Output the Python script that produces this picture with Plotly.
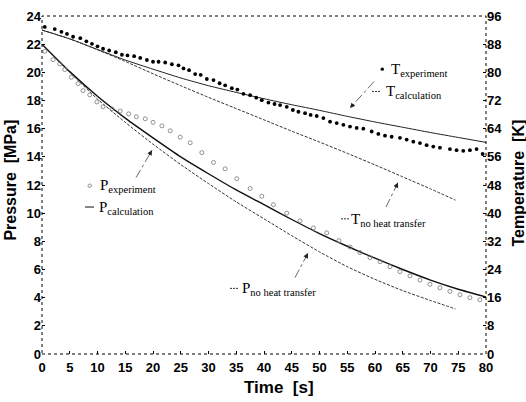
import plotly.graph_objects as go

# ---------------- data ----------------
t_T_exp = [0.5, 2.3, 3.5, 4.5, 5.6, 6.9, 8.0, 9.0, 10.0, 11.0,
           12.1, 13.3, 14.4, 15.4, 16.6, 17.7, 18.9, 20.0, 21.0, 22.2,
           23.4, 24.6, 25.5, 26.5, 27.6, 28.6, 29.7, 30.9, 32.0, 33.0,
           34.2, 35.2, 36.3, 37.5, 38.6, 39.6, 40.8, 41.9, 42.9, 44.1,
           45.2, 46.2, 47.4, 48.4, 49.5, 50.7, 51.9, 53.1, 54.3, 55.5,
           56.7, 57.9, 59.4, 60.6, 61.8, 63.0, 64.5, 65.7, 66.9, 68.1,
           69.3, 70.5, 71.7, 73.5, 74.7, 75.9, 77.1, 78.3, 79.4]
T_exp = [92.9, 92.3, 91.5, 90.9, 90.1, 89.7, 88.8, 88.1, 87.4, 86.7,
         86.2, 85.7, 85.0, 84.8, 84.6, 84.1, 83.5, 83.0, 83.0, 82.8,
         82.3, 82.0, 81.1, 80.6, 79.5, 79.3, 78.1, 77.8, 76.9, 76.3,
         75.5, 75.1, 73.9, 73.5, 72.8, 72.1, 71.4, 71.0, 70.7, 70.2,
         69.3, 68.8, 68.4, 67.9, 67.6, 67.0, 66.0, 65.6, 65.1, 64.6,
         64.2, 64.0, 63.2, 62.5, 62.0, 61.7, 61.4, 60.9, 60.3, 59.9,
         59.3, 58.9, 58.6, 58.2, 57.9, 57.7, 57.9, 58.2, 56.8]

t_P_exp = [0.5, 2.0, 3.2, 4.1, 5.3, 6.5, 7.4, 8.6, 9.9, 11.0,
           12.6, 14.1, 15.6, 17.0, 18.6, 20.0, 21.6, 23.1, 24.9, 26.7,
           28.8, 30.9, 33.0, 35.1, 37.5, 39.6, 41.7, 44.1, 46.5, 48.9,
           51.3, 53.5, 55.5, 57.3, 59.1, 60.9, 62.7, 64.5, 66.3, 68.1,
           69.9, 71.7, 73.5, 75.3, 77.1, 78.9]
P_exp = [21.5, 20.9, 20.6, 20.2, 19.65, 19.2, 18.7, 18.4, 17.9, 17.55,
         17.4, 17.25, 17.05, 16.85, 16.7, 16.45, 16.2, 15.85, 15.4, 15.0,
         14.3, 13.6, 13.15, 12.45, 11.75, 11.2, 10.6, 10.0, 9.45, 8.95,
         8.6, 8.05, 7.6, 7.2, 6.85, 6.55, 6.2, 5.85, 5.55, 5.25,
         4.95, 4.7, 4.45, 4.2, 4.0, 3.85]

t_calc = [0, 5, 10, 15, 20, 25, 30, 35, 40, 45, 50, 55, 60, 65, 70, 75, 80]
T_calc = [92.0, 89.5, 86.5, 83.5, 80.9, 78.4, 76.2, 74.3, 72.5, 70.8,
          69.2, 67.5, 65.9, 64.4, 62.9, 61.5, 60.1]
P_calc = [22.0, 20.05, 18.3, 16.75, 15.35, 14.0, 12.8, 11.65, 10.6, 9.55,
          8.55, 7.65, 6.8, 6.0, 5.25, 4.6, 4.05]

t_noheat = [0, 5, 10, 15, 20, 25, 30, 35, 40, 45, 50, 55, 60, 65, 70, 74.5]
T_noheat = [92.0, 89.5, 86.4, 83.1, 79.6, 76.2, 72.9, 69.7, 66.5, 63.3,
            60.2, 57.0, 53.7, 50.3, 46.9, 43.7]
P_noheat = [22.0, 20.0, 18.1, 16.45, 14.9, 13.45, 12.1, 10.8, 9.6, 8.4,
            7.25, 6.2, 5.3, 4.5, 3.8, 3.2]

x_ticks = list(range(0, 81, 5))
p_ticks = list(range(0, 25, 2))
T_ticks = list(range(0, 97, 8))

# ---------------- layout helpers ----------------
W, H = 526, 402
L, R, TOP, BOT = 42, 486, 9, 354


def px(x):
    return (x - L) / (R - L)


def py(y):
    return (BOT - y) / (BOT - TOP)


fig = go.Figure()

fig.add_trace(go.Scatter(x=t_calc, y=P_calc, mode="lines", yaxis="y",
                         line=dict(color="#111", width=1.4, shape="spline", smoothing=0.6)))
fig.add_trace(go.Scatter(x=t_noheat, y=P_noheat, mode="lines", yaxis="y",
                         line=dict(color="#333", width=1, dash="3px,1.5px",
                                   shape="spline", smoothing=0.6)))
fig.add_trace(go.Scatter(x=t_P_exp, y=P_exp, mode="markers", yaxis="y",
                         marker=dict(symbol="circle-open", size=4, color="#777",
                                     line=dict(width=0.8, color="#777"))))
fig.add_trace(go.Scatter(x=t_calc, y=T_calc, mode="lines", yaxis="y2",
                         line=dict(color="#222", width=1, shape="spline", smoothing=0.6)))
fig.add_trace(go.Scatter(x=t_noheat, y=T_noheat, mode="lines", yaxis="y2",
                         line=dict(color="#333", width=1, dash="3px,1.5px",
                                   shape="spline", smoothing=0.6)))
fig.add_trace(go.Scatter(x=t_T_exp, y=T_exp, mode="markers", yaxis="y2",
                         marker=dict(symbol="circle", size=3.8, color="#000")))

tickfont = dict(family="Liberation Sans", size=13, color="#000", weight="bold")

shapes = [dict(type="rect", xref="paper", yref="paper", x0=0, x1=1, y0=0, y1=1,
               line=dict(color="#000", width=1, dash="dot"))]

# legend symbols
shapes.append(dict(type="circle", xref="paper", yref="paper",
                   x0=px(380.5), x1=px(384), y0=py(61.5), y1=py(65),
                   fillcolor="#000", line=dict(width=0)))
shapes.append(dict(type="line", xref="paper", yref="paper",
                   x0=px(372), x1=px(381), y0=py(86), y1=py(86),
                   line=dict(color="#333", width=1, dash="2px,1px")))
shapes.append(dict(type="circle", xref="paper", yref="paper",
                   x0=px(88), x1=px(91.5), y0=py(180.5), y1=py(184),
                   line=dict(color="#777", width=0.8)))
shapes.append(dict(type="line", xref="paper", yref="paper",
                   x0=px(85), x1=px(94), y0=py(204), y1=py(204),
                   line=dict(color="#111", width=1)))
shapes.append(dict(type="line", xref="paper", yref="paper",
                   x0=px(341), x1=px(349), y0=py(216), y1=py(216),
                   line=dict(color="#333", width=1, dash="2px,1px")))
shapes.append(dict(type="line", xref="paper", yref="paper",
                   x0=px(230), x1=px(239), y0=py(287), y1=py(287),
                   line=dict(color="#333", width=1, dash="2px,1px")))

annotations = []

# arrows (tail -> head)
arrows = [((374, 76), (350, 103)),
          ((386, 204), (398, 179)),
          ((136, 174), (152, 146)),
          ((295, 276), (308, 251))]
for (tx, ty), (hx, hy) in arrows:
    shapes.append(dict(type="line", xref="paper", yref="paper",
                       x0=px(tx), y0=py(ty), x1=px(hx), y1=py(hy),
                       line=dict(color="#444", width=0.8, dash="dashdot")))
    dx, dy = tx - hx, ty - hy
    n = (dx * dx + dy * dy) ** 0.5
    annotations.append(dict(xref="paper", yref="paper", x=px(hx), y=py(hy),
                            text="", showarrow=True, arrowhead=2, arrowsize=1,
                            arrowwidth=1, arrowcolor="#222", standoff=0,
                            ax=dx / n * 7, ay=dy / n * 7))

serif = dict(family="Liberation Serif", size=15, color="#000")
labels = [("T<sub>experiment</sub>", 389, 64),
          ("T<sub>calculation</sub>", 384, 87),
          ("P<sub>experiment</sub>", 98, 183),
          ("P<sub>calculation</sub>", 97, 205),
          ("T<sub>no heat transfer</sub>", 349, 217),
          ("P<sub>no heat transfer</sub>", 240, 288)]
for txt, x, y in labels:
    annotations.append(dict(xref="paper", yref="paper", x=px(x), y=py(y),
                            xanchor="left", yanchor="middle", text=txt,
                            showarrow=False, font=serif))

titlefont = dict(family="Liberation Sans", size=16, color="#000", weight="bold")
annotations.append(dict(xref="paper", yref="paper", x=px(11), y=py(177),
                        text="Pressure  [MPa]", textangle=-90, showarrow=False,
                        xanchor="center", yanchor="middle", font=titlefont))
annotations.append(dict(xref="paper", yref="paper", x=px(519), y=py(180),
                        text="Temperature  [K]", textangle=-90, showarrow=False,
                        xanchor="center", yanchor="middle", font=titlefont))
annotations.append(dict(xref="paper", yref="paper", x=px(279), y=py(388),
                        text="Time  [s]", showarrow=False,
                        xanchor="center", yanchor="middle",
                        font=dict(titlefont, size=17)))

fig.update_layout(
    width=W, height=H,
    margin=dict(l=L, r=W - R, t=TOP, b=H - BOT),
    paper_bgcolor="white", plot_bgcolor="white",
    showlegend=False,
    xaxis=dict(range=[0, 80], tickvals=x_ticks, ticks="inside", ticklen=3,
               tickcolor="#000", showgrid=False, zeroline=False, showline=False,
               tickfont=tickfont, ticklabelstandoff=4),
    yaxis=dict(range=[0, 24], tickvals=p_ticks, ticks="inside", ticklen=3,
               tickcolor="#000", showgrid=False, zeroline=False, showline=False,
               tickfont=tickfont),
    yaxis2=dict(range=[0, 96], tickvals=T_ticks, ticks="inside", ticklen=3,
                tickcolor="#000", showgrid=False, zeroline=False, showline=False,
                tickfont=tickfont, overlaying="y", side="right"),
    shapes=shapes,
    annotations=annotations,
)

fig.write_html("out.html")
